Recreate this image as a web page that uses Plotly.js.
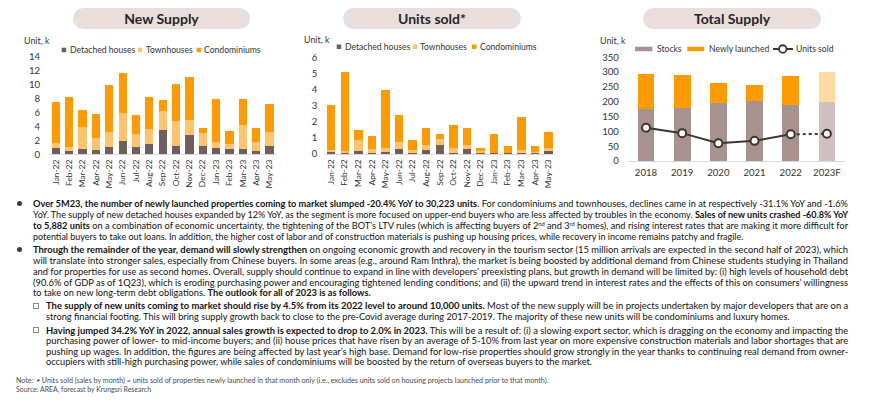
<!DOCTYPE html>
<html><head><meta charset="utf-8">
<script src="https://cdn.plot.ly/plotly-3.0.1.min.js"></script>
<style>
body{margin:0;width:870px;height:404px;overflow:hidden;background:#fff;font-family:Lato,'Open Sans',sans-serif;position:relative;}
#chart{position:absolute;left:0;top:0;width:870px;height:190px;}
.pill{position:absolute;top:8px;height:21px;border-radius:11px;background:#E8DFDD;color:#262626;font-weight:bold;font-size:14px;line-height:21px;text-align:center;}
.ln{position:absolute;white-space:nowrap;font-size:10.2px;line-height:11px;height:11px;color:#111;transform-origin:0 50%;}
.ln sup{font-size:6.3px;vertical-align:3px;line-height:0;}
.bul{position:absolute;width:5px;height:5px;border-radius:50%;background:#3a3a3a;}
.box{position:absolute;width:4px;height:4px;border:1px solid #8a8a8a;}
.note{position:absolute;white-space:nowrap;font-size:7.6px;line-height:9px;height:9px;color:#4a4a4a;transform-origin:0 50%;}
</style></head>
<body>
<div id="chart"></div>
<div class="pill" style="left:73px;width:177px;">New Supply</div>
<div class="pill" style="left:343px;width:178px;">Units sold*</div>
<div class="pill" style="left:643px;width:178px;">Total Supply</div>
<div id="text"></div>
<script>
// ---------- DATA ----------
const months = ['Jan-22','Feb-22','Mar-22','Apr-22','May-22','Jun-22','Jul-22','Aug-22','Sep-22','Oct-22','Nov-22','Dec-22','Jan-23','Feb-23','Mar-23','Apr-23','May-23'];
const supplyDetached = [0.9,0.5,0.8,0.55,1.0,1.9,1.05,1.5,3.45,1.2,2.8,1.2,0.9,0.8,0.8,0.5,1.2];
const supplyTown     = [0.7,0.5,3.1,1.85,2.25,4.0,1.85,2.15,2.75,3.55,2.15,1.8,0.9,0.65,3.4,1.25,1.95];
const supplyCondo    = [5.9,7.2,2.5,3.4,6.7,5.7,2.75,4.55,1.55,5.3,6.15,0.75,6.2,1.85,3.8,2.0,4.0];
const soldDetached = [0.12,0.07,0.18,0.07,0.13,0.28,0.07,0.25,0.56,0.08,0.29,0.06,0.04,0.04,0.06,0.05,0.16];
const soldTown     = [0.13,0.12,0.72,0.26,0.27,0.47,0.15,0.31,0.37,0.29,0.29,0.10,0.04,0.04,0.19,0.07,0.21];
const soldCondo    = [2.8,4.9,0.6,0.8,3.6,1.7,0.65,1.04,0.31,1.41,1.04,0.19,1.14,0.42,2.03,0.36,0.97];
const years = ['2018','2019','2020','2021','2022','2023F'];
const stocks = [175,180,197,202,190,198];
const newlyLaunched = [118,111,66,55,98,102];
const unitsSold = [112,94,60,68,90,92];
const seriesNames = ['Detached houses','Townhouses','Condominiums'];
const totalNames = ['Stocks','Newly launched','Units sold'];

// ---------- STYLE ----------
const FONT = 'Lato, "Open Sans", sans-serif';
const C = {det:'#6E5E5C', town:'#FFC36E', condo:'#FF9A00', stock:'#A8928F', stockF:'#CEC1BF', newF:'#FFD9A2', line:'#3F3434'};
const W = 870, H = 190;
const px = x => x / W, py = y => 1 - y / H;

const traces = [];
function stack(xa, ya, vals){
  const cols = [C.det, C.town, C.condo];
  vals.forEach((v, i) => traces.push({type:'bar', x:months, y:v, name:seriesNames[i], xaxis:xa, yaxis:ya,
    marker:{color:cols[i], line:{width:0}}, width:0.62, showlegend:false, hoverinfo:'skip'}));
}
stack('x','y',[supplyDetached, supplyTown, supplyCondo]);
stack('x2','y2',[soldDetached, soldTown, soldCondo]);
traces.push({type:'bar', x:years, y:stocks, name:totalNames[0], xaxis:'x3', yaxis:'y3', width:0.46,
  marker:{color:years.map((y,i)=> i===years.length-1 ? C.stockF : C.stock)}, showlegend:false});
traces.push({type:'bar', x:years, y:newlyLaunched, name:totalNames[1], xaxis:'x3', yaxis:'y3', width:0.46,
  marker:{color:years.map((y,i)=> i===years.length-1 ? C.newF : C.condo)}, showlegend:false});
traces.push({type:'scatter', mode:'lines', x:years.slice(4), y:unitsSold.slice(4), xaxis:'x3', yaxis:'y3',
  line:{color:C.line, width:2, dash:'dot'}, showlegend:false});
traces.push({type:'scatter', mode:'lines+markers', x:years.slice(0,5), y:unitsSold.slice(0,5), name:totalNames[2], xaxis:'x3', yaxis:'y3',
  line:{color:C.line, width:2}, marker:{symbol:'circle', size:8, color:'#fff', line:{color:C.line, width:2}}, showlegend:false});
traces.push({type:'scatter', mode:'markers', x:years.slice(5), y:unitsSold.slice(5), xaxis:'x3', yaxis:'y3',
  marker:{symbol:'circle', size:8, color:'#fff', line:{color:C.line, width:2}}, showlegend:false});

const xBase = {type:'category', showline:true, linecolor:'#D9D9D9', linewidth:1, ticks:'', showgrid:false, zeroline:false,
  tickmode:'linear', tick0:0, dtick:1, tickfont:{size:8.4, color:'#333'}};
const yBase = {showline:false, ticks:'', showgrid:false, zeroline:false, tickfont:{size:9.6, color:'#333'}};

const annotations = [];
const shapes = [];
function txt(x, y, t, size){ annotations.push({xref:'paper', yref:'paper', x:px(x), y:py(y), text:t, showarrow:false,
  xanchor:'left', yanchor:'middle', font:{size:size||8.6, color:'#333'}}); }
function sq(x0, y0, x1, y1, col){ shapes.push({type:'rect', xref:'paper', yref:'paper', x0:px(x0), x1:px(x1), y0:py(y1), y1:py(y0),
  fillcolor:col, line:{width:0}}); }
// Unit labels
txt(21.5, 40, 'Unit, k', 8.9); txt(302, 39.5, 'Unit, k', 8.9); txt(598, 40, 'Unit, k', 8.9);
// legend 1
sq(61.7,47.7,66.2,52.2,C.det); txt(67.5,50,seriesNames[0]);
sq(137.7,47.7,142.2,52.2,C.town); txt(143.5,50,seriesNames[1]);
sq(196.7,47.7,201.2,52.2,C.condo); txt(202,50,seriesNames[2]);
// legend 2
sq(336.7,44.5,341.2,49,C.det); txt(342.5,46.8,seriesNames[0]);
sq(412.7,44.5,417.2,49,C.town); txt(418,46.8,seriesNames[1]);
sq(472,44.5,476.5,49,C.condo); txt(478,46.8,seriesNames[2]);
// legend 3
sq(635,46.7,652.3,51.2,C.stock); txt(654.5,49,totalNames[0]);
sq(687.3,46.7,704.3,51.2,C.condo); txt(707,49,totalNames[1]);
shapes.push({type:'line', xref:'paper', yref:'paper', x0:px(773), x1:px(793), y0:py(49), y1:py(49), line:{color:C.line, width:2}});
shapes.push({type:'circle', xref:'paper', yref:'paper', x0:px(779), x1:px(786.5), y0:py(52.75), y1:py(45.25), fillcolor:'#fff', line:{color:C.line, width:1.8}});
txt(794,49,totalNames[2]);

const layout = {
  width:W, height:H, margin:{l:0,r:0,t:0,b:0}, barmode:'stack', showlegend:false,
  paper_bgcolor:'#fff', plot_bgcolor:'rgba(0,0,0,0)', font:{family:FONT, size:9, color:'#333'},
  xaxis: Object.assign({}, xBase, {domain:[px(49.2), px(276.2)], anchor:'y', tickangle:-90, ticklabelstandoff:1}),
  yaxis: Object.assign({}, yBase, {domain:[py(154.3), py(56.7)], anchor:'x', range:[0,14], dtick:2, ticklabelstandoff:8}),
  xaxis2: Object.assign({}, xBase, {domain:[px(324.4), px(555.3)], anchor:'y2', tickangle:-90, ticklabelstandoff:1}),
  yaxis2: Object.assign({}, yBase, {domain:[py(154), py(57.3)], anchor:'x2', range:[0,6], dtick:1, ticklabelstandoff:6}),
  xaxis3: Object.assign({}, xBase, {domain:[px(627.9), px(845)], anchor:'y3', tickangle:0, ticklabelstandoff:2, tickfont:{size:9.6, color:'#333'}}),
  yaxis3: Object.assign({}, yBase, {domain:[py(161), py(57.3)], anchor:'x3', range:[0,350], dtick:50, ticklabelstandoff:8}),
  annotations, shapes
};
Plotly.newPlot('chart', traces, layout, {staticPlot:true, displayModeBar:false});

// ---------- TEXT ----------
const lines = [
 [33,203.3,848,1,'<b>Over 5M23, the number of newly launched properties coming to market slumped -20.4% YoY to 30,223 units</b>. For condominiums and townhouses, declines came in at respectively -31.1% YoY and -1.6%'],
 [33,214.2,848,1,'YoY. The supply of new detached houses expanded by 12% YoY, as the segment is more focused on upper-end buyers who are less affected by troubles in the economy. <b>Sales of new units crashed -60.8% YoY</b>'],
 [33,225.1,848,1,'<b>to 5,882 units</b> on a combination of economic uncertainty, the tightening of the BOT’s LTV rules (which is affecting buyers of 2<sup>nd</sup> and 3<sup>rd</sup> homes), and rising interest rates that are making it more difficult for'],
 [33,236,743.3,0,'potential buyers to take out loans. In addition, the higher cost of labor and of construction materials is pushing up housing prices, while recovery in income remains patchy and fragile.'],
 [33,249.8,848,1,'<b>Through the remainder of the year, demand will slowly strengthen</b> on ongoing economic growth and recovery in the tourism sector (15 million arrivals are expected in the second half of 2023), which'],
 [33,260.6,848,1,'will translate into stronger sales, especially from Chinese buyers. In some areas (e.g., around Ram Inthra), the market is being boosted by additional demand from Chinese students studying in Thailand'],
 [33,271.3,848,1,'and for properties for use as second homes. Overall, supply should continue to expand in line with developers’ preexisting plans, but growth in demand will be limited by: (i) high levels of household debt'],
 [33,282,848,1,'(90.6% of GDP as of 1Q23), which is eroding purchasing power and encouraging tightened lending conditions; and (ii) the upward trend in interest rates and the effects of this on consumers’ willingness'],
 [33,292.5,370.7,0,'to take on new long-term debt obligations. <b>The outlook for all of 2023 is as follows.</b>'],
 [45.7,305.7,848,1,'<b>The supply of new units coming to market should rise by 4.5% from its 2022 level to around 10,000 units.</b> Most of the new supply will be in projects undertaken by major developers that are on a'],
 [45.7,316.3,789.3,0,'strong financial footing. This will bring supply growth back to close to the pre-Covid average during 2017-2019. The majority of these new units will be condominiums and luxury homes.'],
 [45.7,330,848,1,'<b>Having jumped 34.2% YoY in 2022, annual sales growth is expected to drop to 2.0% in 2023.</b> This will be a result of: (i) a slowing export sector, which is dragging on the economy and impacting the'],
 [45.7,340.7,848,1,'purchasing power of lower- to mid-income buyers; and (ii) house prices that have risen by an average of 5-10% from last year on more expensive construction materials and labor shortages that are'],
 [45.7,351.3,848,1,'pushing up wages. In addition, the figures are being affected by last year’s high base. Demand for low-rise properties should grow strongly in the year thanks to continuing real demand from owner-'],
 [45.7,361.8,591.7,0,'occupiers with still-high purchasing power, while sales of condominiums will be boosted by the return of overseas buyers to the market.']
];
const notes = [
 [15.7,380.7,548,'Note:&nbsp;&nbsp;<span style="font-size:5px;vertical-align:1px">●</span> Units sold (sales by month) = units sold of properties newly launched in that month only (i.e., excludes units sold on housing projects launched prior to that month).'],
 [15.7,389,150.7,'Source: AREA, forecast by Krungsri Research']
];
const T = document.getElementById('text');
let html = '';
lines.forEach(l => { html += `<div class="ln" data-w="${l[2]-l[0]}" data-j="${l[3]}" style="left:${l[0]}px;top:${l[1]-5.5}px">${l[4]}</div>`; });
notes.forEach(l => { html += `<div class="note" data-w="${l[2]-l[0]}" data-j="0" style="left:${l[0]}px;top:${l[1]-4.5}px">${l[3]}</div>`; });
html += '<div class="bul" style="left:16.5px;top:200.8px"></div><div class="bul" style="left:16.5px;top:247.3px"></div>';
html += '<div class="box" style="left:32.5px;top:303px"></div><div class="box" style="left:32.5px;top:327.3px"></div>';
T.innerHTML = html;
function fit(){
  document.querySelectorAll('.ln, .note').forEach(el => {
    el.style.transform = ''; el.style.wordSpacing = '';
    const target = +el.dataset.w, j = el.dataset.j === '1';
    const w = el.getBoundingClientRect().width;
    if (j && w < target){
      const n = (el.textContent.match(/ /g) || []).length;
      el.style.wordSpacing = ((target - w) / n) + 'px';
    } else {
      el.style.transform = 'scaleX(' + (target / w) + ')';
    }
  });
}
fit();
if (document.fonts && document.fonts.ready) document.fonts.ready.then(fit);
</script>
</body></html>
